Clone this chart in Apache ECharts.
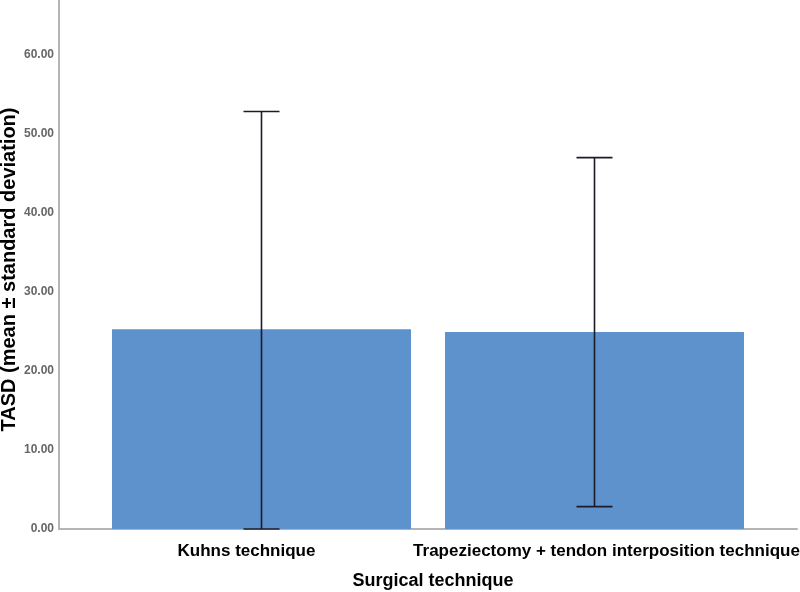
<!DOCTYPE html>
<html>
<head>
<meta charset="utf-8">
<script src="https://cdn.jsdelivr.net/npm/echarts@6/dist/echarts.min.js"></script>
<style>
  html, body { margin: 0; padding: 0; background: #fff; }
  #chart { width: 800px; height: 592px; }
</style>
</head>
<body>
<div id="chart"></div>
<script>
// categories and values
var categories = ['Kuhns technique', 'Trapeziectomy + tendon interposition technique']
var means = [25.25, 24.9]
var sds = [27.55, 22.07]

var chart = echarts.init(document.getElementById('chart'))

// error bar ends, lower end clipped at 0 like the original
var errData = categories.map(function (c, i) {
  return [i, Math.max(0, means[i] - sds[i]), means[i] + sds[i]]
})

var barW = 299
var shift = 18 // bars sit a bit toward the middle

var option = {
  animation: false,
  grid: { left: 59, right: 3, top: 0, bottom: 63, containLabel: false, outerBoundsMode: 'none' },
  xAxis: {
    type: 'category',
    data: [
      { value: categories[0], textStyle: { padding: [0, 0, 0, 6] } },
      { value: categories[1], textStyle: { padding: [0, 12, 0, 0] } }
    ],
    name: 'Surgical technique',
    nameLocation: 'middle',
    nameGap: 43,
    nameMoveOverlap: false,
    nameTextStyle: { color: '#000', fontWeight: 'bold', fontSize: 18, fontFamily: 'Liberation Sans', padding: [0, 0, 0, 10] },
    axisLine: { lineStyle: { color: '#b4b4b4', width: 2 } },
    axisTick: { show: false },
    axisLabel: { interval: 0, color: '#000', fontWeight: 'bold', fontSize: 17, margin: 14, fontFamily: 'Liberation Sans' }
  },
  yAxis: {
    type: 'value',
    min: 0,
    max: 66.9,
    interval: 10,
    name: 'TASD (mean ± standard deviation)',
    nameLocation: 'middle',
    nameGap: 40,
    nameMoveOverlap: false,
    nameTextStyle: { color: '#000', fontWeight: 'bold', fontSize: 20, fontFamily: 'Liberation Sans', padding: [0, 10, 0, 0] },
    axisLine: { show: true, lineStyle: { color: '#b4b4b4', width: 2 } },
    axisTick: { show: false },
    splitLine: { show: false },
    axisLabel: {
      color: '#666',
      fontWeight: 'bold',
      fontSize: 12,
      margin: 5,
      fontFamily: 'Liberation Sans',
      formatter: function (v) { return v.toFixed(2) },
      showMaxLabel: false
    }
  },
  series: [
    {
      type: 'bar',
      data: [means[0], '-'],
      barWidth: barW,
      barGap: (-(2 * shift + barW) / barW * 100) + '%',
      itemStyle: { color: '#5d92cc' }
    },
    {
      type: 'bar',
      data: ['-', means[1]],
      barWidth: barW,
      itemStyle: { color: '#5d92cc' }
    },
    {
      type: 'custom',
      data: errData,
      z: 10,
      renderItem: function (params, api) {
        var i = api.value(0)
        var dx = i === 0 ? shift : -shift
        var lo = api.coord([i, api.value(1)])
        var hi = api.coord([i, api.value(2)])
        var x = lo[0] + dx
        var cap = 18
        var style = { stroke: '#1c1c28', lineWidth: 1.6 }
        return {
          type: 'group',
          children: [
            { type: 'line', shape: { x1: x, y1: lo[1], x2: x, y2: hi[1] }, style: style },
            { type: 'line', shape: { x1: x - cap, y1: hi[1], x2: x + cap, y2: hi[1] }, style: style },
            { type: 'line', shape: { x1: x - cap, y1: lo[1], x2: x + cap, y2: lo[1] }, style: style }
          ]
        }
      }
    }
  ]
}

chart.setOption(option)
</script>
</body>
</html>
